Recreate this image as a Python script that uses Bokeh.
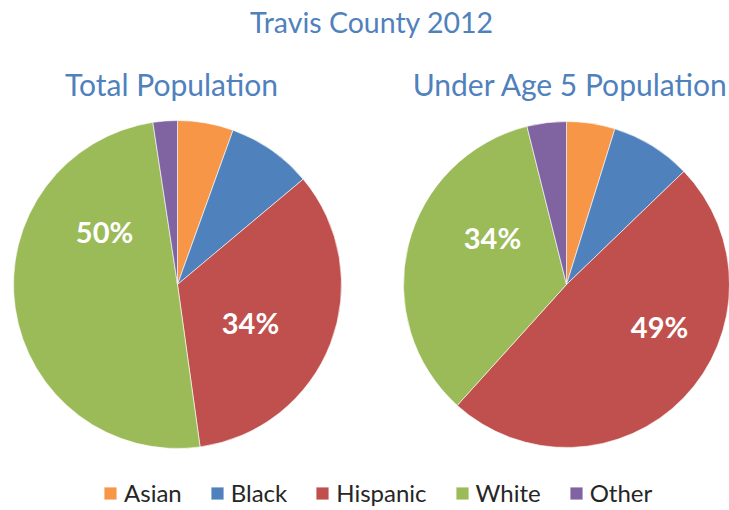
import math
from bokeh.plotting import figure
from bokeh.models import ColumnDataSource, Legend, LegendItem, Range1d
from bokeh.core.properties import value
from bokeh.embed import file_html
from bokeh.resources import INLINE

# ---- data ----
categories = ["Asian", "Black", "Hispanic", "White", "Other"]
total_pop = [5.5, 8.4, 33.9, 49.8, 2.4]
under5_pop = [4.8, 8.0, 48.9, 34.4, 3.9]
labelled = ["Hispanic", "White"]
title_text = "Travis County  2012"
subtitles = ["Total Population", "Under Age 5 Population"]

colors = ["#F79646", "#4F81BD", "#C0504D", "#9BBB59", "#8064A2"]

# ---- layout (figure pixel units, y up) ----
W, H = 729, 510
FONT = "Lato"
centers = [(177, 226), (566, 226)]
radii = [164, 163]
# label offsets as fraction of radius (dx, dy), for Hispanic and White
label_offsets = [
    {"Hispanic": (0.445, -0.232), "White": (-0.445, 0.323)},
    {"Hispanic": (0.571, -0.258), "White": (-0.454, 0.288)},
]

p = figure(width=W, height=H, output_backend="svg", toolbar_location=None,
           x_range=Range1d(0, W), y_range=Range1d(0, H), min_border=0)
p.axis.visible = False
p.grid.visible = False
p.outline_line_color = None
p.background_fill_color = "white"
p.border_fill_color = "white"

renderers = []
for k, vals in enumerate([total_pop, under5_pop]):
    tot = sum(vals)
    starts, ends = [], []
    cum = 0.0
    for v in vals:
        starts.append(math.pi / 2 - 2 * math.pi * cum / tot)
        cum += v
        ends.append(math.pi / 2 - 2 * math.pi * cum / tot)
    cx, cy = centers[k]
    src = ColumnDataSource(dict(x=[cx] * len(vals), y=[cy] * len(vals),
                                start=starts, end=ends, color=colors,
                                cat=categories))
    r = p.wedge(x="x", y="y", radius=radii[k], start_angle="start", end_angle="end",
                direction="clock", fill_color="color", line_color="white",
                line_alpha=0.6, line_width=1, source=src)
    renderers.append(r)
    # percentage labels
    lx, ly, lt = [], [], []
    for cat, v in zip(categories, vals):
        if cat in labelled:
            dx, dy = label_offsets[k][cat]
            lx.append(cx + dx * radii[k])
            ly.append(cy + dy * radii[k])
            lt.append(f"{round(v / tot * 100)}%")
    p.text(x=lx, y=ly, text=lt, text_color="white", text_font=value(FONT),
           text_font_style="bold", text_font_size="29px",
           text_align="center", text_baseline="middle")

# titles
p.text(x=[375], y=[489], text=[title_text], text_color="#4F81BD",
       text_font=value(FONT), text_font_size="28.5px",
       text_align="center", text_baseline="middle")
p.text(x=[171, 570], y=[427, 427], text=subtitles, text_color="#4F81BD",
       text_font=value(FONT), text_font_size="30px",
       text_align="center", text_baseline="middle")

items = [LegendItem(label=c, renderers=[renderers[0]], index=i)
         for i, c in enumerate(categories)]
legend = Legend(items=items, orientation="horizontal", location=(102, 3),
                padding=0, margin=0, spacing=27, glyph_width=16, glyph_height=16,
                label_standoff=6, label_text_font=FONT, label_text_font_size="24px",
                label_text_color="#262626", border_line_alpha=0,
                background_fill_alpha=0, label_height=24)
p.add_layout(legend, "center")

open("out.html", "w").write(file_html(p, INLINE))
